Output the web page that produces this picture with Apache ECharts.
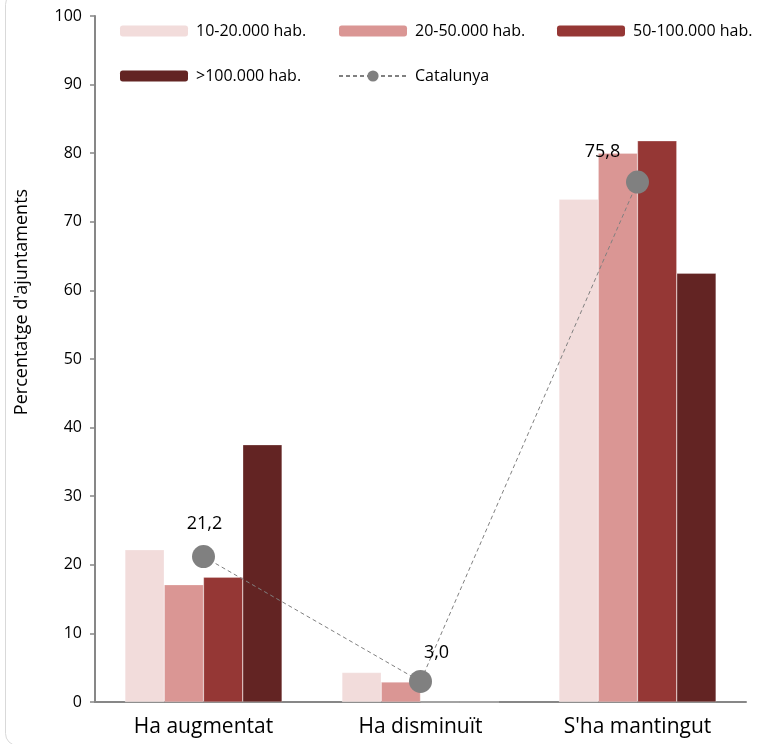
<!DOCTYPE html>
<html><head><meta charset="utf-8">
<script src="https://cdn.jsdelivr.net/npm/echarts@6/dist/echarts.min.js"></script>
<style>html,body{margin:0;padding:0;background:#fff}#c{width:758px;height:744px}</style>
</head><body><div id="c"></div>
<script>
const categories = ["Ha augmentat", "Ha disminuït", "S'ha mantingut"];
const s10_20 = [22.2, 4.3, 73.3];
const s20_50 = [17.1, 2.9, 80.0];
const s50_100 = [18.2, 0, 81.8];
const s100 = [37.5, 0, 62.5];
const catalunya = [21.2, 3.0, 75.8];
const seriesNames = ["10-20.000 hab.", "20-50.000 hab.", "50-100.000 hab.", ">100.000 hab.", "Catalunya"];
const colors = ["#f2dcdb", "#da9694", "#953735", "#632423", "#808080"];
const labelOffsets = [[1, -2], [16, 2], [-35, 0]];

const font = "'Open Sans', 'Noto Sans', sans-serif";
const chart = echarts.init(document.getElementById('c'));
const barData = [s10_20, s20_50, s50_100, s100];
const legendPos = [[120, 23], [339, 23], [557, 23], [120, 68], [338, 68]];

const series = barData.map((d, i) => ({
  name: seriesNames[i], type: 'bar', data: d,
  barGap: '0%', barCategoryGap: '27.6%',
  itemStyle: { color: colors[i], borderColor: 'rgba(255,255,255,0.5)', borderWidth: 0.5 },
  emphasis: { disabled: true }
}));
series.push({
  name: seriesNames[4], type: 'line', data: catalunya.map((v, i) => ({
    value: v,
    label: { offset: labelOffsets[i] }
  })),
  symbol: 'circle', symbolSize: 23,
  itemStyle: { color: colors[4] },
  lineStyle: { color: '#808080', width: 1, type: [4, 3] },
  label: { show: true, position: 'top', distance: 10, color: '#000', fontSize: 18, fontFamily: font,
    formatter: p => p.value.toFixed(1).replace('.', ',') },
  z: 5
});

chart.setOption({
  backgroundColor: '#fff',
  animation: false,
  grid: { left: 95, right: 12, top: 16, bottom: 42, containLabel: false },
  legend: seriesNames.map((n, i) => ({
    data: [n],
    left: legendPos[i][0], top: legendPos[i][1], padding: 0,
    itemWidth: 68, itemHeight: i === 4 ? 14 : 11, itemGap: 0,
    selectedMode: false,
    itemStyle: { borderWidth: 0 },
    textStyle: { fontSize: 16, color: '#000', fontFamily: font, padding: [0, 0, 0, 3] }
  })),
  xAxis: {
    type: 'category', data: categories,
    axisLine: { lineStyle: { color: '#878787', width: 2 } },
    axisTick: { show: false },
    axisLabel: { fontSize: 21, color: '#000', fontFamily: font, margin: 15 }
  },
  yAxis: {
    type: 'value', min: 0, max: 100, interval: 10,
    axisLine: { show: true, lineStyle: { color: '#878787', width: 2 } },
    axisTick: { show: true, length: 5, lineStyle: { color: '#878787', width: 1.5 } },
    splitLine: { show: false },
    axisLabel: { fontSize: 16, color: '#000', fontFamily: font, margin: 13 }
  },
  graphic: [
    { type: 'rect', left: 3, top: -10, shape: { width: 770, height: 753, r: 12 },
      style: { fill: 'none', stroke: '#d9d9d9', lineWidth: 1 }, silent: true, z: -1 },
    { type: 'text', x: 22, y: 302, rotation: Math.PI / 2,
      style: { text: "Percentatge d'ajuntaments", fontSize: 18, fontFamily: font, fill: '#000',
        align: 'center', verticalAlign: 'middle' } }
  ],
  series: series
});
</script></body></html>
